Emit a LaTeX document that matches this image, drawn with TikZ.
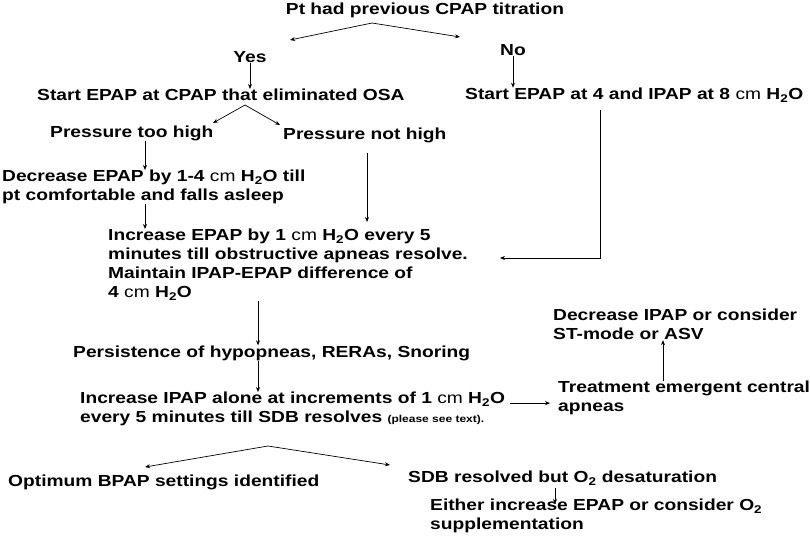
\documentclass[tikz,border=0pt]{standalone}
\usepackage{fontspec}
\setmainfont{Liberation Sans}[FakeStretch=1.2]
\usetikzlibrary{arrows.meta,positioning}

\newcommand{\cmu}{{\mdseries cm}}
\newcommand{\water}{H\textsubscript{2}O}
\newcommand{\oxy}{O\textsubscript{2}}

\tikzset{
  txt/.style={font=\bfseries\fontsize{16}{19}\selectfont, inner sep=0pt, align=left},
  flow/.style={-{Stealth[length=5pt,width=4pt]}, line width=0.7pt},
}

\begin{document}
\begin{tikzpicture}[x=1pt, y=-1pt]
    \useasboundingbox (0,0) rectangle (810,540);

    \node[txt] at (425,10)(title){Pt had previous CPAP titration};
    \coordinate (split1) at (372,23);
    \coordinate (tipYes) at (290,40);
    \coordinate (tipNo) at (460,37);
    \node[txt] at (250,57)(yes){Yes};
    \node[txt] at (513,50)(no){No};
    \node[txt, anchor=west] at (37,95)(startA){Start EPAP at CPAP that eliminated OSA};
    \node[txt, anchor=west] at (465,95)(startB){Start EPAP at 4 and IPAP at 8 \cmu\ \water};

    \coordinate (split2) at (245,105);
    \coordinate (tipHigh) at (213,123);
    \coordinate (tipNotHigh) at (280,125);
    \node[txt, anchor=west] at (50,133)(tooHigh){Pressure too high};
    \node[txt, anchor=west] at (283,135)(notHigh){Pressure not high};
    \node[txt, anchor=north west] at (2,170)(decEPAP){Decrease EPAP by 1-4 \cmu\ \water\ till\\pt comfortable and falls asleep};
    \node[txt, anchor=north west] at (108,229)(incEPAP){Increase EPAP by 1 \cmu\ \water\ every 5\\minutes till obstructive apneas resolve.\\Maintain IPAP-EPAP difference of\\4 \cmu\ \water};
    \coordinate (corner) at (600,258);

    \node[txt, anchor=west] at (73,353)(persist){Persistence of hypopneas, RERAs, Snoring};
    \node[txt, anchor=north west] at (80,392)(incIPAP){Increase IPAP alone at increments of 1 \cmu\ \water\\every 5 minutes till SDB resolves {\fontsize{10}{12}\selectfont(please see text).}};
    \node[txt, anchor=north west] at (558,381)(central){Treatment emergent central\\apneas};
    \node[txt, anchor=north west] at (553,309)(decIPAP){Decrease IPAP or consider\\ST-mode or ASV};

    \coordinate (split3) at (268,446);
    \coordinate (tipOpt) at (145,467);
    \coordinate (tipDesat) at (390,465);
    \node[txt, anchor=west] at (8,482)(optimum){Optimum BPAP settings identified};
    \node[txt, anchor=west] at (408,478)(desat){SDB resolved but \oxy\ desaturation};
    \node[txt, anchor=north west] at (430,499)(either){Either increase EPAP or consider \oxy\\supplementation};

    \path[flow]
    (split1) edge (tipYes)
    (split1) edge (tipNo)
    (yes.south) edge (yes.south |- startA.north)
    (no.south) edge (no.south |- startB.north)
    (split2) edge (tipHigh)
    (split2) edge (tipNotHigh)
    ([xshift=95pt]tooHigh.south west) edge ([xshift=95pt]tooHigh.south west |- decEPAP.north)
    ([xshift=143pt]decEPAP.south west) edge ([xshift=143pt]decEPAP.south west |- incEPAP.north)
    ([xshift=84pt,yshift=-10pt]notHigh.south west) edge ([xshift=84pt,yshift=7pt]notHigh.south west |- incEPAP.north)
    ([xshift=150pt]incEPAP.south west) edge ([xshift=150pt]incEPAP.south west |- persist.north)
    ([xshift=185pt]persist.south west) edge ([xshift=185pt]persist.south west |- incIPAP.north)
    ([xshift=5pt,yshift=-5pt]incIPAP.east |- central.west) edge ([xshift=-8pt,yshift=-5pt]central.west)
    ([xshift=105pt]central.north west) edge ([xshift=105pt]central.north west |- decIPAP.south)
    (split3) edge (tipOpt)
    (split3) edge (tipDesat)
    ([xshift=147pt,yshift=-3pt]desat.south west) edge ([xshift=147pt,yshift=-5pt]desat.south west |- either.north)
    ;
    \draw[flow] ([yshift=-8pt]startB.south -| corner) -- (corner) -- ([xshift=32pt]incEPAP.east |- corner);
\end{tikzpicture}
\end{document}
